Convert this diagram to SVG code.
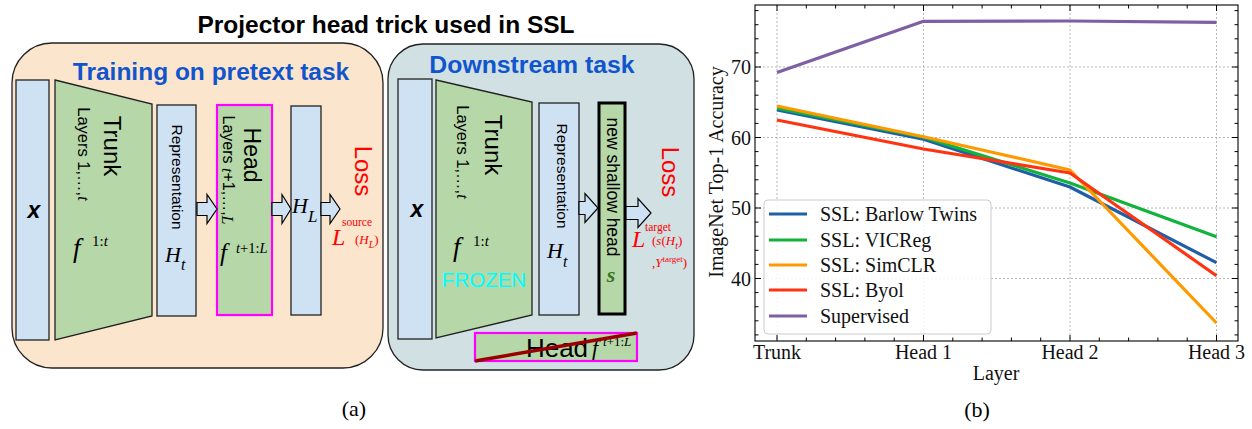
<svg xmlns="http://www.w3.org/2000/svg" width="1252" height="429" viewBox="0 0 1252 429">
<style>
.sans{font-family:"Liberation Sans",Arial,sans-serif}
.serif{font-family:"Liberation Serif","Times New Roman",serif}
.ital{font-family:"Liberation Serif","Times New Roman",serif;font-style:italic}
.blue{fill:#cfe2f3;stroke:#222;stroke-width:1.3}
.green{fill:#b6d7a8;stroke:#222;stroke-width:1.3}
.barrow{fill:#cfe2f3;stroke:#000;stroke-width:1.2}
.rot{text-anchor:middle;dominant-baseline:central}
.red{fill:#ff0000}
.grid{stroke:#b0b0b0;stroke-width:0.9;stroke-dasharray:2 2;fill:none}
.tick{stroke:#000;stroke-width:1;fill:none}
.tl{font-family:"Liberation Serif","Times New Roman",serif;font-size:20px;fill:#111}
.ser{fill:none;stroke-width:3.2;stroke-linejoin:round;stroke-linecap:butt}
</style>

<text x="386" y="33" class="sans" font-size="24.5" font-weight="bold" text-anchor="middle">Projector head trick used in SSL</text>

<g id="pretext-panel">
<rect x="12" y="43" width="371" height="325" rx="40" ry="40" fill="#fce5cd" stroke="#222" stroke-width="1.3"/>
<text x="211" y="80" class="sans" font-size="24.5" font-weight="bold" fill="#1155cc" text-anchor="middle">Training on pretext task</text>
</g>

<g id="pretext-x">
<rect x="16" y="80" width="33" height="260" class="blue"/>
<text x="34" y="218" class="sans" font-size="23" font-style="italic" font-weight="bold" text-anchor="middle">x</text>
</g>

<g id="pretext-trunk">
<path d="M55,80 L152,104 L152,316 L55,340 Z" class="green"/>
<text transform="translate(112,146) rotate(90)" class="sans rot" font-size="24">Trunk</text>
<text transform="translate(84,154) rotate(90)" class="sans rot" font-size="16.5">Layers 1,…,<tspan class="ital">t</tspan></text>
<text x="73" y="257" class="ital" font-size="27">f</text>
<text x="92" y="246" class="serif" font-size="15">1:<tspan font-style="italic">t</tspan></text>
</g>

<g id="pretext-representation">
<rect x="157" y="105" width="39" height="211" class="blue"/>
<text transform="translate(177,177) rotate(90)" class="sans rot" font-size="15.5">Representation</text>
<text x="165" y="262" class="ital" font-size="22">H<tspan font-size="16" dy="8">t</tspan></text>
</g>

<g id="pretext-head">
<rect x="217" y="105" width="55" height="210" fill="#b6d7a8" stroke="#ff00ff" stroke-width="2.2"/>
<text transform="translate(252,155) rotate(90)" class="sans rot" font-size="23">Head</text>
<text transform="translate(228,170) rotate(90)" class="sans rot" font-size="16">Layers <tspan class="ital">t</tspan>+1,…,<tspan class="ital">L</tspan></text>
<text x="220" y="261" class="ital" font-size="25">f</text>
<text x="236" y="253" class="serif" font-size="14.5"><tspan font-style="italic">t</tspan>+1:<tspan font-style="italic">L</tspan></text>
</g>

<g id="pretext-HL">
<rect x="291" y="106" width="30" height="209" class="blue"/>
<text x="292" y="213" class="ital" font-size="22">H<tspan font-size="17" dy="9">L</tspan></text>
</g>

<g id="pretext-loss">
<text transform="translate(363,171) rotate(90)" class="sans rot red" font-size="24">Loss</text>
<text x="332" y="245" class="ital red" font-size="24">L</text>
<text x="342" y="226" class="serif red" font-size="11.5">source</text>
<text x="355" y="244" class="serif red" font-size="13">(<tspan font-style="italic">H</tspan><tspan font-style="italic" font-size="10" dy="4">L</tspan><tspan dy="-4">)</tspan></text>
</g>

<g id="downstream-panel">
<rect x="388" y="44" width="306" height="326" rx="35" ry="35" fill="#d0e0e3" stroke="#222" stroke-width="1.3"/>
<text x="532" y="73" class="sans" font-size="24.8" font-weight="bold" fill="#1155cc" text-anchor="middle">Downstream task</text>
</g>

<g id="downstream-x">
<rect x="398" y="79" width="34" height="260" class="blue"/>
<text x="417" y="217" class="sans" font-size="23" font-style="italic" font-weight="bold" text-anchor="middle">x</text>
</g>

<g id="downstream-trunk">
<path d="M436,80 L532,102 L532,315 L436,338 Z" class="green"/>
<text transform="translate(493,145) rotate(90)" class="sans rot" font-size="24">Trunk</text>
<text transform="translate(463,152) rotate(90)" class="sans rot" font-size="16.5">Layers 1,…,<tspan class="ital">t</tspan></text>
<text x="453" y="256" class="ital" font-size="27">f</text>
<text x="473" y="246" class="serif" font-size="15">1:<tspan font-style="italic">t</tspan></text>
<text x="484" y="287" class="sans" font-size="20.5" fill="#00ffff" text-anchor="middle">FROZEN</text>
</g>

<g id="downstream-representation">
<rect x="539" y="103" width="40" height="212" class="blue"/>
<text transform="translate(562,176) rotate(90)" class="sans rot" font-size="15.5">Representation</text>
<text x="547" y="258" class="ital" font-size="22">H<tspan font-size="16" dy="9">t</tspan></text>
</g>

<g id="downstream-shallow-head">
<rect x="599" y="103" width="26" height="211" fill="#b6d7a8" stroke="#000" stroke-width="3"/>
<text transform="translate(613,187) rotate(90)" class="sans rot" font-size="17.5">new shallow head</text>
<text x="611" y="282" class="ital" font-size="22" font-weight="bold" fill="#38761d" text-anchor="middle">s</text>
</g>

<g id="downstream-loss">
<text transform="translate(670,172) rotate(90)" class="sans rot red" font-size="24">Loss</text>
<text x="632" y="247" class="ital red" font-size="24">L</text>
<text x="645" y="231" class="serif red" font-size="11.5">target</text>
<text x="652" y="245" class="serif red" font-size="13">(<tspan font-style="italic">s</tspan>(<tspan font-style="italic">H</tspan><tspan font-style="italic" font-size="10" dy="4">t</tspan><tspan dy="-4">)</tspan></text>
<text x="652" y="267" class="serif red" font-size="13">,<tspan font-style="italic">Y</tspan><tspan font-size="9" dy="-5">target</tspan><tspan dy="5">)</tspan></text>
</g>

<g id="downstream-old-head">
<rect x="475" y="333" width="162" height="28" fill="#b6d7a8" stroke="#ff00ff" stroke-width="2.2"/>
<text x="557" y="357" class="sans" font-size="26" text-anchor="middle">Head</text>
<text x="592" y="355" class="ital" font-size="22">f</text>
<text x="603" y="346" class="serif" font-size="13"><tspan font-style="italic">t</tspan>+1:<tspan font-style="italic">L</tspan></text>
<line x1="475" y1="361" x2="637" y2="333" stroke="#990000" stroke-width="3.5"/>
</g>

<g id="connectors">
<path class="barrow" d="M197,202.5 L207,202.5 L207,194.5 L217,209 L207,223.5 L207,215.5 L197,215.5 Z"/>
<path class="barrow" d="M272,202.5 L282,202.5 L282,194.5 L291,209 L282,223.5 L282,215.5 L272,215.5 Z"/>
<path class="barrow" d="M321,202.5 L330,202.5 L330,194.5 L340,209 L330,223.5 L330,215.5 L321,215.5 Z"/>
<path class="barrow" d="M579,201.5 L585,201.5 L585,193.5 L598,208 L585,222.5 L585,214.5 L579,214.5 Z"/>
<path class="barrow" d="M626,206.5 L638,206.5 L638,198.5 L651,213 L638,227.5 L638,219.5 L626,219.5 Z"/>
</g>

<text x="354" y="416" class="serif" font-size="22" text-anchor="middle">(a)</text>

<g id="chart">
<g id="grid">
<path class="grid" d="M777,5V341M923.5,5V341M1070,5V341M1216.5,5V341M755,67H1238M755,137.5H1238M755,208H1238M755,278.5H1238"/>
</g>
<g id="series">
<polyline class="ser" stroke="#1f5fa8" points="777,110 923.5,139.3 1070,187 1216.5,262.7"/>
<polyline class="ser" stroke="#12b33c" points="777,108.3 923.5,137.3 1070,183 1216.5,236.7"/>
<polyline class="ser" stroke="#ff9900" points="777,106 923.5,136.7 1070,170 1216.5,323"/>
<polyline class="ser" stroke="#ff3311" points="777,120 923.5,149 1070,173 1216.5,275.7"/>
<polyline class="ser" stroke="#7f5fa3" points="777,72.5 923.5,21.3 1070,21 1216.5,22.3"/>
</g>
<g id="axes">
<rect x="755" y="5" width="483" height="336" fill="none" stroke="#000" stroke-width="1.1"/>
<path class="tick" d="M755,67h6M755,137.5h6M755,208h6M755,278.5h6M1238,67h-6M1238,137.5h-6M1238,208h-6M1238,278.5h-6
M755,334.9h3.5M755,320.8h3.5M755,306.7h3.5M755,292.6h3.5M755,264.4h3.5M755,250.3h3.5M755,236.2h3.5M755,222.1h3.5M755,193.9h3.5M755,179.8h3.5M755,165.7h3.5M755,151.6h3.5M755,123.4h3.5M755,109.3h3.5M755,95.2h3.5M755,81.1h3.5M755,52.9h3.5M755,38.8h3.5M755,24.7h3.5M755,10.6h3.5
M1238,334.9h-3.5M1238,320.8h-3.5M1238,306.7h-3.5M1238,292.6h-3.5M1238,264.4h-3.5M1238,250.3h-3.5M1238,236.2h-3.5M1238,222.1h-3.5M1238,193.9h-3.5M1238,179.8h-3.5M1238,165.7h-3.5M1238,151.6h-3.5M1238,123.4h-3.5M1238,109.3h-3.5M1238,95.2h-3.5M1238,81.1h-3.5M1238,52.9h-3.5M1238,38.8h-3.5M1238,24.7h-3.5M1238,10.6h-3.5
M777,341v-6M923.5,341v-6M1070,341v-6M1216.5,341v-6M777,5v6M923.5,5v6M1070,5v6M1216.5,5v6
M806.3,341v-3.5M835.6,341v-3.5M864.9,341v-3.5M894.2,341v-3.5M952.8,341v-3.5M982.1,341v-3.5M1011.4,341v-3.5M1040.7,341v-3.5M1099.3,341v-3.5M1128.6,341v-3.5M1157.9,341v-3.5M1187.2,341v-3.5
M806.3,5v3.5M835.6,5v3.5M864.9,5v3.5M894.2,5v3.5M952.8,5v3.5M982.1,5v3.5M1011.4,5v3.5M1040.7,5v3.5M1099.3,5v3.5M1128.6,5v3.5M1157.9,5v3.5M1187.2,5v3.5"/>
<text x="751" y="74" class="tl" text-anchor="end">70</text>
<text x="751" y="144.5" class="tl" text-anchor="end">60</text>
<text x="751" y="215" class="tl" text-anchor="end">50</text>
<text x="751" y="285.5" class="tl" text-anchor="end">40</text>
<text x="777" y="359" class="tl" text-anchor="middle">Trunk</text>
<text x="923.5" y="359" class="tl" text-anchor="middle">Head 1</text>
<text x="1070" y="359" class="tl" text-anchor="middle">Head 2</text>
<text x="1216.5" y="359" class="tl" text-anchor="middle">Head 3</text>
<text x="996" y="380" class="tl" text-anchor="middle">Layer</text>
<text transform="translate(723,172) rotate(-90)" class="tl" text-anchor="middle" font-size="21">ImageNet Top-1 Accuracy</text>
</g>
<g id="legend">
<rect x="764" y="200" width="227" height="134" rx="4" ry="4" fill="#ffffff" fill-opacity="0.85" stroke="#cccccc" stroke-width="1"/>
<line x1="769" y1="214" x2="807" y2="214" stroke="#1f5fa8" stroke-width="3.2"/>
<line x1="769" y1="240" x2="807" y2="240" stroke="#12b33c" stroke-width="3.2"/>
<line x1="769" y1="265" x2="807" y2="265" stroke="#ff9900" stroke-width="3.2"/>
<line x1="769" y1="290" x2="807" y2="290" stroke="#ff3311" stroke-width="3.2"/>
<line x1="769" y1="316" x2="807" y2="316" stroke="#7f5fa3" stroke-width="3.2"/>
<text x="820" y="221" class="tl">SSL: Barlow Twins</text>
<text x="820" y="247" class="tl">SSL: VICReg</text>
<text x="820" y="272" class="tl">SSL: SimCLR</text>
<text x="820" y="297" class="tl">SSL: Byol</text>
<text x="820" y="323" class="tl">Supervised</text>
</g>
</g>

<text x="977" y="417" class="serif" font-size="22" text-anchor="middle">(b)</text>
</svg>
